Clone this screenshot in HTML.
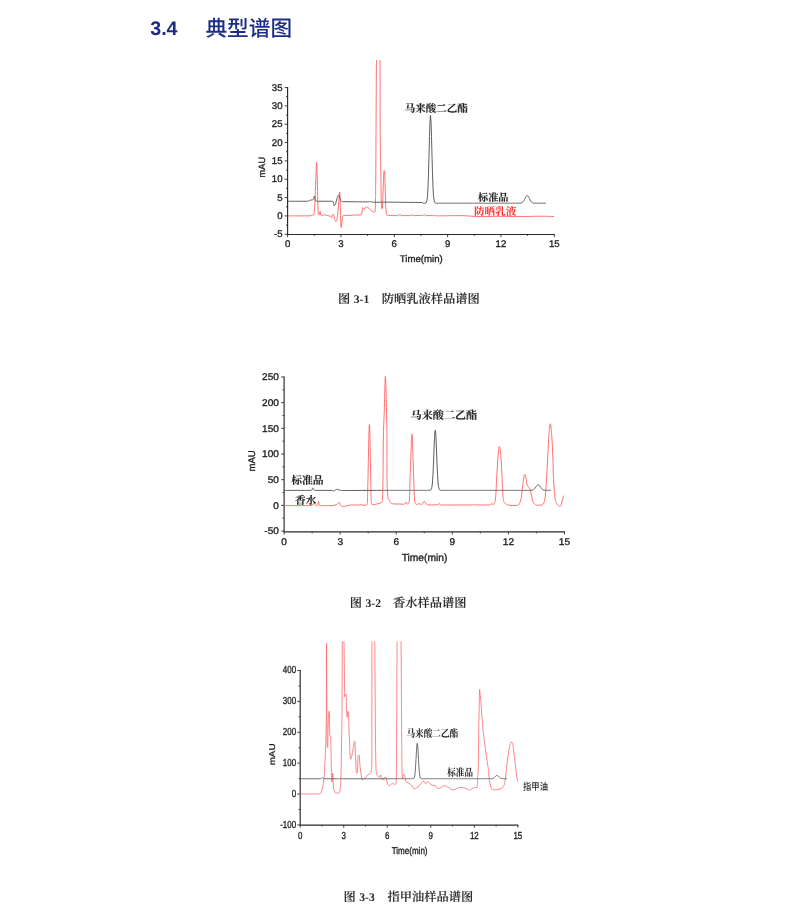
<!DOCTYPE html>
<html lang="zh-CN">
<head>
<meta charset="utf-8">
<title>3.4 典型谱图</title>
<style>
html,body{margin:0;padding:0;background:#fff;}
body{width:800px;height:918px;overflow:hidden;}
svg{display:block;}
</style>
</head>
<body>
<svg width="800" height="918" viewBox="0 0 800 918" text-rendering="geometricPrecision">
<rect width="800" height="918" fill="#fff"/>
<path d="M287.6 87.06 V234.54 H554.8" fill="none" stroke="#2a2a2a" stroke-width="1.15"/>
<path d="M287.6 234.24h-2.9M287.6 215.9h-2.9M287.6 197.56h-2.9M287.6 179.23h-2.9M287.6 160.9h-2.9M287.6 142.56h-2.9M287.6 124.23h-2.9M287.6 105.89h-2.9M287.6 87.56h-2.9M287.6 225.07h-1.6M287.6 206.73h-1.6M287.6 188.4h-1.6M287.6 170.06h-1.6M287.6 151.73h-1.6M287.6 133.39h-1.6M287.6 115.06h-1.6M287.6 96.72h-1.6M287.6 234.54v2.6M340.94 234.54v2.6M394.28 234.54v2.6M447.62 234.54v2.6M500.96 234.54v2.6M554.3 234.54v2.6M314.27 234.54v1.4M367.61 234.54v1.4M420.95 234.54v1.4M474.29 234.54v1.4M527.63 234.54v1.4" fill="none" stroke="#2a2a2a" stroke-width="0.9"/>
<g font-family="'Liberation Sans',Arial,sans-serif" font-size="9.7" fill="#1f1f1f" stroke="#1f1f1f" stroke-width="0.34">
<text transform="translate(282.5 237.31) scale(0.99 1)" text-anchor="end">-5</text>
<text transform="translate(282.5 218.97) scale(0.99 1)" text-anchor="end">0</text>
<text transform="translate(282.5 200.64) scale(0.99 1)" text-anchor="end">5</text>
<text transform="translate(282.5 182.3) scale(0.99 1)" text-anchor="end">10</text>
<text transform="translate(282.5 163.97) scale(0.99 1)" text-anchor="end">15</text>
<text transform="translate(282.5 145.63) scale(0.99 1)" text-anchor="end">20</text>
<text transform="translate(282.5 127.3) scale(0.99 1)" text-anchor="end">25</text>
<text transform="translate(282.5 108.96) scale(0.99 1)" text-anchor="end">30</text>
<text transform="translate(282.5 90.63) scale(0.99 1)" text-anchor="end">35</text>
<text transform="translate(287.6 246.8) scale(0.99 1)" text-anchor="middle">0</text>
<text transform="translate(340.94 246.8) scale(0.99 1)" text-anchor="middle">3</text>
<text transform="translate(394.28 246.8) scale(0.99 1)" text-anchor="middle">6</text>
<text transform="translate(447.62 246.8) scale(0.99 1)" text-anchor="middle">9</text>
<text transform="translate(500.96 246.8) scale(0.99 1)" text-anchor="middle">12</text>
<text transform="translate(554.3 246.8) scale(0.99 1)" text-anchor="middle">15</text>
</g>
<path d="M287.88 215.88 C292.3 215.88 305.2 215.88 310 215.88 C311.88 215.88 311.18 215 311.88 215 C312.57 215 312.93 215 313.5 215 C314.07 215 314.27 212.5 314.75 205 C315.23 197.5 315.5 186.05 315.88 177.5 C316.25 168.95 316.35 162.25 316.62 162.25 C316.9 162.25 316.95 167.2 317.25 177.5 C317.55 187.8 317.77 206.25 318.12 213.75 C318.48 215 318.57 215 319 215 C319.43 215 319.9 211.25 320.25 211.25 C320.6 211.25 320.3 214.18 320.75 215 C321.2 215.38 321.77 215.38 322.5 215.38 C323.23 215.38 323.38 214.75 324.38 214.75 C325.38 214.75 326.38 215.32 327.5 215.62 C328.62 215.93 329.2 215.82 330 216.25 C330.8 216.68 330.95 217.75 331.5 217.75 C332.05 217.75 332.3 214.38 332.75 214.38 C333.2 214.38 333.18 214.38 333.75 215 C334.32 216.43 335 221.5 335.62 221.5 C336.25 221.5 336.38 221.5 336.88 220 C337.38 217.7 337.55 215.62 338.12 210 C338.7 204.38 339.3 191.88 339.75 191.88 C340.2 191.88 340.12 202.88 340.38 210 C340.62 217.12 340.75 227.5 341 227.5 C341.25 227.5 341.32 227 341.62 225 C341.93 223 341.95 219.43 342.5 217.5 C343.05 215.57 342.88 215.38 344.38 215.38 C345.88 215.38 347.88 215.38 350 215.38 C352.12 215.38 353 215 355 215 C357 215 358.62 215 360 215 C361.38 215 361.32 214.62 361.88 213.12 C362.43 211.62 362.32 207.5 362.75 207.5 C363.18 207.5 363.3 209.38 364 209.38 C364.7 209.38 365.55 206.88 366.25 206.88 C366.95 206.88 366.5 206.88 367.5 207.25 C368.5 208 369.88 209.65 371.25 210.62 C372.62 211.6 373.6 212.12 374.38 212.12 C375.12 212.12 374.9 212.12 375.12 210.75 C375.35 208.32 375.38 205.9 375.5 200 C375.62 194.1 375.55 200 375.75 181.25 C375.95 153.25 376.35 60 376.5 60 M380 60 C380.05 60 380.07 116.5 380.25 140 C380.43 163.5 380.62 163.88 380.88 177.5 C381.12 191.12 381.23 201.88 381.5 208.12 C381.77 208.75 381.93 208.75 382.25 208.75 C382.57 208.75 382.77 197.62 383.12 190 C383.48 182.38 383.7 170.62 384 170.62 C384.3 170.62 384.3 170.62 384.62 171.25 C384.95 177.62 385.25 194 385.62 202.5 C386 211 386 211.18 386.5 213.75 C387 215.38 386.5 215 388.12 215.38 C390.32 215.62 395.12 215.62 397.5 215.62 C399.88 215.62 399.12 214.12 400 214.12 C400.88 214.12 400 215.62 401.88 215.62 C403.88 215.62 408 215.62 410 215.62 C411.88 215.62 411.12 214.75 411.88 214.75 C412.62 214.75 411.88 215.62 413.75 215.62 C415.88 215.62 420.38 215.57 422.5 215.38 C424.38 215.18 423.62 214.62 424.38 214.62 C425.12 214.62 424.38 215.62 426.25 215.62 C428.12 215.62 432 215.62 433.75 215.62 C435 215.62 434.25 215.25 435 215.25 C435.75 215.25 435 215.88 437.5 215.88 C442.5 215.88 451.5 215.62 460 215.62 C468.5 215.62 472 216.6 480 216.6 C488 216.6 492 216.3 500 216.3 C508 216.3 512 216.6 520 216.6 C528 216.6 533.2 216.2 540 216.2 C546.8 216.2 551.2 216.5 554 216.5" fill="none" stroke="#ff6868" stroke-width="0.95" stroke-linejoin="round" stroke-linecap="butt"/>
<path d="M287.88 201.25 C291.68 201.25 302.45 201.25 306.88 201.25 C310 201.25 308.75 200.62 310 200.25 C311.25 199.88 312.25 200.22 313.12 199.38 C314 198.53 314 196 314.38 196 C314.75 196 314.7 197.75 315 198.75 C315.3 199.75 315.38 200.5 315.88 201 C316.38 201.25 315.88 201.25 317.5 201.25 C320.82 201.25 329.2 201.25 332.5 201.25 C334 201.25 333.38 205.62 334 205.62 C334.62 205.62 335.05 205.12 335.62 203.75 C336.2 202.38 336.25 200.5 336.88 198.75 C337.5 197 338.12 195 338.75 195 C339.38 195 339.5 197.5 340 198.75 C340.5 200 340.25 200.68 341.25 201.25 C342.25 201.62 341.25 201.5 345 201.62 C350.25 201.75 362.5 201.88 367.5 201.88 C370 201.88 369 201.5 370 201.5 C371 201.5 370.5 201.97 372.5 202.12 C374.5 202.25 377.5 202.25 380 202.25 C382.5 202.25 380 202.12 385 202.12 C393.5 202.12 415 202.5 422.5 202.5 L423 203.2 L423.5 203.2 L424 203.2 L424.5 203.2 L425 203.18 L425.5 203.11 L426 202.86 L426.5 202.11 L427 200.15 L427.5 195.77 L428 187.39 L428.5 173.9 L429 155.84 L429.5 136.47 L430 121.22 L430.5 115.4 L431 121.22 L431.5 136.47 L432 155.84 L432.5 173.9 L433 187.39 L433.5 195.77 L434 200.15 L434.5 202.11 L435 202.86 L435.5 203.11 L436 203.18 L436.5 203.2 L437 203.2 L437.5 203.2 L438 203.2 L438.5 203.2 L439 203.2 L439.5 203.2 L440 203.2 L440.5 203.2 L441 203.2 L441.5 203.2 L442 203.2 L442.5 203.2 L443 203.2 L443.5 203.2 L444 203.2 L444.5 203.2 L445 203.2 L445.5 203.2 L446 203.2 L446.5 203.2 L447 203.2 L447.5 203.2 L448 203.2 L448.5 203.2 L449 203.2 L449.5 203.2 L450 203.2 L450.5 203.2 L451 203.2 L451.5 203.2 L452 203.2 L452.5 203.2 L453 203.2 L453.5 203.2 L454 203.2 L454.5 203.2 L455 203.2 L455.5 203.2 L456 203.2 L456.5 203.2 L457 203.2 L457.5 203.2 L458 203.2 L458.5 203.2 L459 203.2 L459.5 203.2 L460 203.2 L460.5 203.2 L461 203.2 L461.5 203.2 L462 203.2 L462.5 203.2 L463 203.2 L463.5 203.2 L464 203.2 L464.5 203.2 L465 203.2 L465.5 203.2 L466 203.2 L466.5 203.2 L467 203.2 L467.5 203.2 L468 203.2 L468.5 203.2 L469 203.2 L469.5 203.2 L470 203.2 L470.5 203.2 L471 203.2 L471.5 203.2 L472 203.2 L472.5 203.2 L473 203.2 L473.5 203.2 L474 203.2 L474.5 203.2 L475 203.2 L475.5 203.2 L476 203.2 L476.5 203.2 L477 203.2 L477.5 203.2 L478 203.2 L478.5 203.2 L479 203.2 L479.5 203.2 L480 203.2 L480.5 203.2 L481 203.2 L481.5 203.2 L482 203.2 L482.5 203.2 L483 203.2 L483.5 203.2 L484 203.2 L484.5 203.2 L485 203.2 L485.5 203.2 L486 203.2 L486.5 203.2 L487 203.2 L487.5 203.2 L488 203.2 L488.5 203.2 L489 203.2 L489.5 203.2 L490 203.2 L490.5 203.2 L491 203.2 L491.5 203.2 L492 203.2 L492.5 203.2 L493 203.2 L493.5 203.2 L494 203.2 L494.5 203.2 L495 203.2 L495.5 203.2 L496 203.2 L496.5 203.2 L497 203.2 L497.5 203.2 L498 203.2 L498.5 203.2 L499 203.2 L499.5 203.2 L500 203.2 L500.5 203.2 L501 203.2 L501.5 203.2 L502 203.2 L502.5 203.2 L503 203.2 L503.5 203.2 L504 203.2 L504.5 203.2 L505 203.2 L505.5 203.2 L506 203.2 L506.5 203.2 L507 203.2 L507.5 203.2 L508 203.2 L508.5 203.2 L509 203.2 L509.5 203.2 L510 203.2 L510.5 203.2 L511 203.2 L511.5 203.2 L512 203.2 L512.5 203.2 L513 203.2 L513.5 203.2 L514 203.2 L514.5 203.2 L515 203.2 L515.5 203.2 L516 203.2 L516.5 203.2 L517 203.2 L517.5 203.2 L518 203.2 L518.5 203.2 L519 203.19 L519.5 203.18 L520 203.16 L520.5 203.13 L521 203.05 L521.5 202.93 L522 202.73 L522.5 202.41 L523 201.96 L523.5 201.33 L524 200.53 L524.5 199.57 L525 198.53 L525.5 197.49 L526 196.56 L526.5 195.88 L527 195.53 L527.5 195.57 L528 195.99 L528.5 196.73 L529 197.69 L529.5 198.74 L530 199.77 L530.5 200.7 L531 201.47 L531.5 202.06 L532 202.49 L532.5 202.78 L533 202.96 L533.5 203.07 L534 203.14 L534.5 203.17 L535 203.19 L535.5 203.19 L536 203.2 L536.5 203.2 L537 203.2 L537.5 203.2 L538 203.2 L538.5 203.2 L539 203.2 L539.5 203.2 L540 203.2 L540.5 203.2 L541 203.2 L541.5 203.2 L542 203.2 L542.5 203.2 L543 203.2 L543.5 203.2 L544 203.2 L544.5 203.2 L545 203.2 L545.5 203.2 L546 203.2" fill="none" stroke="#555555" stroke-width="0.95" stroke-linejoin="round" stroke-linecap="butt"/>
<path d="M284.1 376.48 V531.9 H564.95" fill="none" stroke="#2a2a2a" stroke-width="1.15"/>
<path d="M284.1 531.02h-2.9M284.1 505.35h-2.9M284.1 479.68h-2.9M284.1 454h-2.9M284.1 428.33h-2.9M284.1 402.65h-2.9M284.1 376.98h-2.9M284.1 518.19h-1.6M284.1 492.51h-1.6M284.1 466.84h-1.6M284.1 441.16h-1.6M284.1 415.49h-1.6M284.1 389.81h-1.6M284.1 531.9v2.6M340.17 531.9v2.6M396.24 531.9v2.6M452.31 531.9v2.6M508.38 531.9v2.6M564.45 531.9v2.6M312.14 531.9v1.4M368.21 531.9v1.4M424.28 531.9v1.4M480.35 531.9v1.4M536.42 531.9v1.4" fill="none" stroke="#2a2a2a" stroke-width="0.9"/>
<g font-family="'Liberation Sans',Arial,sans-serif" font-size="9.7" fill="#1f1f1f" stroke="#1f1f1f" stroke-width="0.34">
<text transform="translate(278.9 534.25) scale(1.04 1)" text-anchor="end">-50</text>
<text transform="translate(278.9 508.57) scale(1.04 1)" text-anchor="end">0</text>
<text transform="translate(278.9 482.9) scale(1.04 1)" text-anchor="end">50</text>
<text transform="translate(278.9 457.22) scale(1.04 1)" text-anchor="end">100</text>
<text transform="translate(278.9 431.55) scale(1.04 1)" text-anchor="end">150</text>
<text transform="translate(278.9 405.87) scale(1.04 1)" text-anchor="end">200</text>
<text transform="translate(278.9 380.2) scale(1.04 1)" text-anchor="end">250</text>
<text transform="translate(284.1 545) scale(1.04 1)" text-anchor="middle">0</text>
<text transform="translate(340.17 545) scale(1.04 1)" text-anchor="middle">3</text>
<text transform="translate(396.24 545) scale(1.04 1)" text-anchor="middle">6</text>
<text transform="translate(452.31 545) scale(1.04 1)" text-anchor="middle">9</text>
<text transform="translate(508.38 545) scale(1.04 1)" text-anchor="middle">12</text>
<text transform="translate(564.45 545) scale(1.04 1)" text-anchor="middle">15</text>
</g>
<path d="M284.12 505.62 C289.55 505.62 305.45 505.62 311.25 505.62 C313.12 505.62 312.5 503.75 313.12 503.75 C313.75 503.75 313.88 503.75 314.38 504 C314.88 504.3 315.05 504.93 315.62 505.25 C316.2 505.57 316.77 505.62 317.25 505.62 C317.73 505.62 317.75 505.2 318 504.38 C318.25 503.55 318.3 501.5 318.5 501.5 C318.7 501.5 318.8 503.6 319 504.38 C319.2 505.15 319.05 505.12 319.5 505.38 C319.95 505.62 319.5 505.62 321.25 505.62 C323.35 505.62 327.25 505.62 330 505.62 C332.75 505.62 333.5 505.38 335 505 C336.5 504.62 336.62 504.3 337.5 503.75 C338.38 503.2 338.75 502.25 339.38 502.25 C340 502.25 340 504.15 340.62 505 C341.25 505.85 341.38 506.5 342.5 506.5 C343.62 506.5 344.5 506.18 346.25 505.88 C348 505.57 350.07 505.32 351.25 505 C352.12 504.68 351.8 504.25 352.12 504.25 C352.45 504.25 352.12 505 352.88 505 C354.45 505 358.2 505 360 505 C361.8 505 361.32 504.38 361.88 504.38 C362.43 504.38 361.88 505.25 362.75 505.25 C363.62 505.25 365.35 505.25 366.25 505.25 C367.15 505.25 367 504.18 367.25 503.12 C367.5 502.07 367.35 503.12 367.5 500 C367.65 494.88 367.62 492.62 368 477.5 C368.38 462.38 368.9 424.4 369.4 424.4 C369.9 424.4 370.2 451.88 370.5 465 C370.8 478.12 370.7 482.5 370.88 490 C371.05 497.5 371.05 499.55 371.38 502.5 C371.7 504.75 371.77 504.75 372.5 504.75 C373.23 504.75 373.5 504.7 375 504.38 C376.5 504.05 378.55 503.75 380 503.12 C381.45 502.5 381.65 503.12 382.25 501.25 C382.85 496.12 382.79 489.75 383 477.5 C383.21 465.25 383.04 453.5 383.3 440 C383.56 426.5 383.88 422.74 384.3 410 C384.72 397.26 384.96 376.3 385.4 376.3 C385.84 376.3 386.18 397.26 386.5 410 C386.82 422.74 386.9 426.5 387 440 C387 453.5 387 466.5 387 477.5 C387.15 488.5 387.27 490.38 387.75 495 C388.23 499.62 388.68 499 389.38 500.62 C390.07 502.25 390.12 502.45 391.25 503.12 C392.38 503.8 393.25 504 395 504 C396.75 504 398.25 504 400 504 C401.75 504 402.57 504.38 403.75 504.38 C404.93 504.38 405.25 502.25 405.88 502.25 C406.5 502.25 406.43 503.4 406.88 503.75 C407.32 504 407.62 504 408.12 504 C408.62 504 408.98 504 409.38 500 C409.77 494.7 409.84 485.5 410.12 477.5 C410.41 469.5 410.44 468.7 410.8 460 C411.16 451.3 411.44 434 411.9 434 C412.36 434 412.75 451.3 413.1 460 C413.45 468.7 413.32 469.5 413.62 477.5 C413.93 485.5 414.23 494.75 414.62 500 C415.02 503.75 415.05 502.88 415.62 503.75 C416.2 504.38 416.82 504.38 417.5 504.38 C418.18 504.38 418.38 503.38 419 503.38 C419.62 503.38 419.93 504.38 420.62 504.38 C421.32 504.38 421.75 504.38 422.5 503.75 C423.25 503.12 423.62 501.25 424.38 501.25 C425.12 501.25 425.12 503.25 426.25 504 C427.38 504.75 427.75 505 430 505 C432.25 505 435.62 504.93 437.5 504.62 C439.38 504.32 438.62 503.5 439.38 503.5 C440.12 503.5 439.38 505 441.25 505 C443.38 505 444.25 505 450 505 C455.75 505 465 505 470 505 C475 505 473.5 504.62 475 504.62 C476.5 504.62 475 505 477.5 505 C480.25 505 486 505 488.75 505 C491.25 505 490.38 503.75 491.25 503.75 C492.12 503.75 492.5 504.38 493.12 504.38 C493.75 504.38 493.88 504.38 494.38 503.12 C494.88 501.75 495.18 502.38 495.62 497.5 C496.07 492.62 496.23 485.65 496.62 478.75 C497.02 471.85 497.21 468.65 497.6 463 C498 457.35 498.24 453.8 498.6 450.5 C498.96 447.2 499.06 446.5 499.4 446.5 C499.74 446.5 499.92 447.2 500.3 450.5 C500.68 453.8 500.94 457.35 501.3 463 C501.67 468.65 501.81 472.35 502.12 478.75 C502.44 485.15 502.55 490.5 502.88 495 C503.2 499.5 503.32 499.62 503.75 501.25 C504.18 502.88 504.25 502.43 505 503.12 C505.75 503.82 506 504.25 507.5 504.75 C509 505.25 510.5 505.62 512.5 505.62 C514.5 505.62 516.12 505.62 517.5 505.25 C518.88 504.88 518.62 505.25 519.38 503.75 C520.12 502.2 520.5 501.75 521.25 497.5 C522 493.25 522.45 487.12 523.12 482.5 C523.8 477.88 524.08 474.38 524.62 474.38 C525.17 474.38 525.38 475.38 525.88 477.5 C526.38 479.62 526.55 483.12 527.12 485 C527.7 486.88 528.05 485.62 528.75 486.88 C529.45 488.12 529.88 488.62 530.62 491.25 C531.38 493.88 531.75 497.5 532.5 500 C533.25 502.5 533.38 502.7 534.38 503.75 C535.38 504.8 536.12 505.25 537.5 505.25 C538.88 505.25 540 505.25 541.25 505 C542.5 504.57 542.92 505 543.75 503.12 C544.58 501.12 544.83 499.88 545.38 495 C545.92 490.12 546.08 485.55 546.5 478.75 C546.92 471.95 547.08 468.75 547.5 461 C547.92 453.25 548.18 446.8 548.6 440 C549.02 433.2 549.26 430.25 549.6 427 C549.94 423.75 550.02 423.75 550.3 423.75 C550.58 423.75 550.66 423.75 551 427 C551.34 430.25 551.6 433.2 552 440 C552.4 446.8 552.7 453.25 553 461 C553.3 468.75 553.1 471.45 553.5 478.75 C553.9 486.05 554.33 492.5 555 497.5 C555.67 502.5 555.88 502 556.88 503.75 C557.88 505.5 559.12 506.25 560 506.25 C560.88 506.25 560.62 506.12 561.25 504.38 C561.88 502.62 562.5 499.25 563.12 497.5 C563.75 495.75 564.12 495.62 564.38 495.62" fill="none" stroke="#ff6868" stroke-width="0.95" stroke-linejoin="round" stroke-linecap="butt"/>
<path d="M284.12 490.38 C289.3 490.38 304.45 490.38 310 490.38 C311.88 490.38 311.32 490.25 311.88 489.75 C312.43 489.25 312.38 487.88 312.75 487.88 C313.12 487.88 313.18 489.25 313.75 489.75 C314.32 490.25 313.75 490.38 315.62 490.38 C319.12 490.38 327.62 490.38 331.25 490.38 C333.75 490.38 332.88 491 333.75 491 C334.62 491 334.88 490.07 335.62 489.75 C336.38 489.43 336.62 489.38 337.5 489.38 C338.38 489.38 339 490.02 340 490.25 C341 490.48 340 490.5 342.5 490.5 C350.5 490.5 372.5 490.38 380 490.38 L381 490.35 L381.5 490.35 L382 490.35 L382.5 490.35 L383 490.35 L383.5 490.35 L384 490.35 L384.5 490.35 L385 490.35 L385.5 490.35 L386 490.35 L386.5 490.35 L387 490.35 L387.5 490.35 L388 490.35 L388.5 490.35 L389 490.35 L389.5 490.35 L390 490.35 L390.5 490.35 L391 490.35 L391.5 490.35 L392 490.35 L392.5 490.35 L393 490.35 L393.5 490.35 L394 490.35 L394.5 490.35 L395 490.35 L395.5 490.35 L396 490.35 L396.5 490.35 L397 490.35 L397.5 490.35 L398 490.35 L398.5 490.35 L399 490.35 L399.5 490.35 L400 490.35 L400.5 490.35 L401 490.35 L401.5 490.35 L402 490.35 L402.5 490.35 L403 490.35 L403.5 490.35 L404 490.35 L404.5 490.35 L405 490.35 L405.5 490.35 L406 490.35 L406.5 490.35 L407 490.35 L407.5 490.35 L408 490.35 L408.5 490.35 L409 490.35 L409.5 490.35 L410 490.35 L410.5 490.35 L411 490.35 L411.5 490.35 L412 490.35 L412.5 490.35 L413 490.35 L413.5 490.35 L414 490.35 L414.5 490.35 L415 490.35 L415.5 490.35 L416 490.35 L416.5 490.35 L417 490.35 L417.5 490.35 L418 490.35 L418.5 490.35 L419 490.35 L419.5 490.35 L420 490.35 L420.5 490.35 L421 490.35 L421.5 490.35 L422 490.35 L422.5 490.35 L423 490.35 L423.5 490.35 L424 490.35 L424.5 490.35 L425 490.35 L425.5 490.35 L426 490.35 L426.5 490.35 L427 490.35 L427.5 490.35 L428 490.35 L428.5 490.35 L429 490.35 L429.5 490.34 L430 490.31 L430.5 490.19 L431 489.82 L431.5 488.83 L432 486.54 L432.5 481.98 L433 474.22 L433.5 463.07 L434 449.91 L434.5 437.77 L435 430.39 L435.5 430.39 L436 437.77 L436.5 449.91 L437 463.07 L437.5 474.22 L438 481.98 L438.5 486.54 L439 488.83 L439.5 489.82 L440 490.19 L440.5 490.31 L441 490.34 L441.5 490.35 L442 490.35 L442.5 490.35 L443 490.35 L443.5 490.35 L444 490.35 L444.5 490.35 L445 490.35 L445.5 490.35 L446 490.35 L446.5 490.35 L447 490.35 L447.5 490.35 L448 490.35 L448.5 490.35 L449 490.35 L449.5 490.35 L450 490.35 L450.5 490.35 L451 490.35 L451.5 490.35 L452 490.35 L452.5 490.35 L453 490.35 L453.5 490.35 L454 490.35 L454.5 490.35 L455 490.35 L455.5 490.35 L456 490.35 L456.5 490.35 L457 490.35 L457.5 490.35 L458 490.35 L458.5 490.35 L459 490.35 L459.5 490.35 L460 490.35 L460.5 490.35 L461 490.35 L461.5 490.35 L462 490.35 L462.5 490.35 L463 490.35 L463.5 490.35 L464 490.35 L464.5 490.35 L465 490.35 L465.5 490.35 L466 490.35 L466.5 490.35 L467 490.35 L467.5 490.35 L468 490.35 L468.5 490.35 L469 490.35 L469.5 490.35 L470 490.35 L470.5 490.35 L471 490.35 L471.5 490.35 L472 490.35 L472.5 490.35 L473 490.35 L473.5 490.35 L474 490.35 L474.5 490.35 L475 490.35 L475.5 490.35 L476 490.35 L476.5 490.35 L477 490.35 L477.5 490.35 L478 490.35 L478.5 490.35 L479 490.35 L479.5 490.35 L480 490.35 L480.5 490.35 L481 490.35 L481.5 490.35 L482 490.35 L482.5 490.35 L483 490.35 L483.5 490.35 L484 490.35 L484.5 490.35 L485 490.35 L485.5 490.35 L486 490.35 L486.5 490.35 L487 490.35 L487.5 490.35 L488 490.35 L488.5 490.35 L489 490.35 L489.5 490.35 L490 490.35 L490.5 490.35 L491 490.35 L491.5 490.35 L492 490.35 L492.5 490.35 L493 490.35 L493.5 490.35 L494 490.35 L494.5 490.35 L495 490.35 L495.5 490.35 L496 490.35 L496.5 490.35 L497 490.35 L497.5 490.35 L498 490.35 L498.5 490.35 L499 490.35 L499.5 490.35 L500 490.35 L500.5 490.35 L501 490.35 L501.5 490.35 L502 490.35 L502.5 490.35 L503 490.35 L503.5 490.35 L504 490.35 L504.5 490.35 L505 490.35 L505.5 490.35 L506 490.35 L506.5 490.35 L507 490.35 L507.5 490.35 L508 490.35 L508.5 490.35 L509 490.35 L509.5 490.35 L510 490.35 L510.5 490.35 L511 490.35 L511.5 490.35 L512 490.35 L512.5 490.35 L513 490.35 L513.5 490.35 L514 490.35 L514.5 490.35 L515 490.35 L515.5 490.35 L516 490.35 L516.5 490.35 L517 490.35 L517.5 490.35 L518 490.35 L518.5 490.35 L519 490.35 L519.5 490.35 L520 490.35 L520.5 490.35 L521 490.35 L521.5 490.35 L522 490.35 L522.5 490.35 L523 490.35 L523.5 490.35 L524 490.35 L524.5 490.35 L525 490.35 L525.5 490.35 L526 490.35 L526.5 490.35 L527 490.35 L527.5 490.35 L528 490.35 L528.5 490.35 L529 490.35 L529.5 490.34 L530 490.34 L530.5 490.33 L531 490.3 L531.5 490.26 L532 490.19 L532.5 490.06 L533 489.88 L533.5 489.6 L534 489.22 L534.5 488.72 L535 488.11 L535.5 487.42 L536 486.69 L536.5 485.99 L537 485.4 L537.5 484.99 L538 484.81 L538.5 484.88 L539 485.21 L539.5 485.74 L540 486.4 L540.5 487.13 L541 487.84 L541.5 488.49 L542 489.03 L542.5 489.46 L543 489.78 L543.5 490 L544 490.14 L544.5 490.23 L545 490.29 L545.5 490.32 L546 490.33 L546.5 490.34 L547 490.35 L547.5 490.35 L548 490.35 L548.5 490.35 L549 490.35 L549.5 490.35 L550 490.35 L550.5 490.35 L551 490.35" fill="none" stroke="#555555" stroke-width="0.95" stroke-linejoin="round" stroke-linecap="butt"/>
<path d="M300.2 669.98 V825.1 H518.35" fill="none" stroke="#2a2a2a" stroke-width="1.15"/>
<path d="M300.2 824.88h-2.9M300.2 794h-2.9M300.2 763.12h-2.9M300.2 732.24h-2.9M300.2 701.36h-2.9M300.2 670.48h-2.9M300.2 809.44h-1.6M300.2 778.56h-1.6M300.2 747.68h-1.6M300.2 716.8h-1.6M300.2 685.92h-1.6M300.2 825.1v2.6M343.73 825.1v2.6M387.26 825.1v2.6M430.79 825.1v2.6M474.32 825.1v2.6M517.85 825.1v2.6M321.96 825.1v1.4M365.5 825.1v1.4M409.02 825.1v1.4M452.55 825.1v1.4M496.08 825.1v1.4" fill="none" stroke="#2a2a2a" stroke-width="0.9"/>
<g font-family="'Liberation Sans',Arial,sans-serif" font-size="10.2" fill="#1f1f1f" stroke="#1f1f1f" stroke-width="0.34">
<text transform="translate(296.1 827.88) scale(0.78 1)" text-anchor="end">-100</text>
<text transform="translate(296.1 797) scale(0.78 1)" text-anchor="end">0</text>
<text transform="translate(296.1 766.12) scale(0.78 1)" text-anchor="end">100</text>
<text transform="translate(296.1 735.24) scale(0.78 1)" text-anchor="end">200</text>
<text transform="translate(296.1 704.36) scale(0.78 1)" text-anchor="end">300</text>
<text transform="translate(296.1 673.48) scale(0.78 1)" text-anchor="end">400</text>
<text transform="translate(300.2 839) scale(0.78 1)" text-anchor="middle">0</text>
<text transform="translate(343.73 839) scale(0.78 1)" text-anchor="middle">3</text>
<text transform="translate(387.26 839) scale(0.78 1)" text-anchor="middle">6</text>
<text transform="translate(430.79 839) scale(0.78 1)" text-anchor="middle">9</text>
<text transform="translate(474.32 839) scale(0.78 1)" text-anchor="middle">12</text>
<text transform="translate(517.85 839) scale(0.78 1)" text-anchor="middle">15</text>
</g>
<path d="M300.25 794 C303.2 794 311.93 794 315 794 C315.62 794 315.25 793.38 315.62 793.38 C316 793.38 316 794 316.88 794 C317.75 794 319 794 320 793.75 C321 792.95 321.12 792.75 321.88 790 C322.62 787.25 323.12 785.5 323.75 780 C324.38 774.5 324.57 771 325 762.5 C325.43 754 325.6 747.5 325.88 737.5 C326.15 727.5 326.25 731.34 326.38 712.5 C326.5 693.66 326.4 643.3 326.5 643.3 C326.6 643.3 326.73 691.91 326.88 712.5 C327.02 733.09 327.07 739.25 327.25 746.25 C327.43 747.5 327.57 747.5 327.75 747.5 C327.93 747.5 327.88 732.25 328.12 725 C328.38 717.75 328.73 711.25 329 711.25 C329.27 711.25 329.35 711.25 329.5 711.25 C329.65 711.25 329.52 730 329.75 735 C329.98 736.25 330.32 735 330.62 736.25 C330.93 741.75 331.05 753.38 331.25 762.5 C331.45 771.62 331.43 781.88 331.62 781.88 C331.82 781.88 332.05 781.75 332.25 780 C332.45 778.25 332.48 773.12 332.62 773.12 C332.77 773.12 332.85 773.12 333 775 C333.15 777.62 333.1 783 333.38 786.25 C333.65 789.5 333.8 789.88 334.38 791.25 C334.95 792.62 335.5 793.12 336.25 793.12 C337 793.12 337.38 793.12 338.12 793.12 C338.88 793.12 339.43 793.12 340 790 C340.57 786.38 340.68 785.5 341 775 C341.32 764.5 341.43 750 341.62 737.5 C341.82 725 341.87 731.74 342 712.5 C342.13 693.26 342.24 641.3 342.3 641.3 M343.9 641.3 C344.04 641.3 344.54 681.46 344.6 692.6 C344.6 697 344.2 697 344.2 697 C344.46 697 345.42 694 345.9 694 C346.38 694 346.33 705.3 346.6 710 C346.87 714.7 347 717.5 347.25 717.5 C347.5 717.5 347.62 711.25 347.88 711.25 C348.12 711.25 348.2 711.25 348.5 712.5 C348.8 717.75 348.95 728.12 349.38 737.5 C349.8 746.88 350 759.38 350.62 759.38 C351.25 759.38 351.7 756.12 352.5 752.5 C353.3 748.88 354.07 741.25 354.62 741.25 C355.18 741.25 354.88 743.62 355.25 750 C355.62 756.38 356.1 773.12 356.5 773.12 C356.9 773.12 356.93 773.12 357.25 772.5 C357.57 769 357.75 759.12 358.12 755.62 C358.5 755 358.75 755 359.12 755 C359.5 755 359.57 762.25 360 766.25 C360.43 770.25 360.75 772.25 361.25 775 C361.75 777.75 361.88 780 362.5 780 C363.12 780 363.32 779.75 364.38 778.75 C365.43 777.75 366.38 776.5 367.75 775 C369.12 773.5 370.43 775 371.25 771.25 C371.88 766.25 371.75 771.25 371.88 750 C371.9 724.01 371.89 641.3 371.9 641.3 M374.7 641.3 C374.88 641.3 375.26 723.51 375.62 750 C375.99 773.75 376.12 768.62 376.5 773.75 C376.88 775.62 376.93 774.88 377.5 775.62 C378.07 776.38 378.75 777.5 379.38 777.5 C380 777.5 380.2 775 380.62 775 C381.05 775 381 777.12 381.5 778.12 C382 779.12 382.43 780 383.12 780 C383.82 780 384.38 776.88 385 776.88 C385.62 776.88 385.75 777.38 386.25 778.75 C386.75 780.12 386.88 782.38 387.5 783.75 C388.12 785.12 388.75 785.62 389.38 785.62 C390 785.62 390 785.25 390.62 784.75 C391.25 784.25 391.75 783.12 392.5 783.12 C393.25 783.12 393.68 784.38 394.38 784.38 C395.07 784.38 395.57 784.38 396 783.75 C396.43 778.38 396.28 783.75 396.5 757.5 C396.72 729.01 396.98 641.3 397.1 641.3 M401 641.3 C401.18 641.3 401.57 730.01 401.88 757.5 C402.18 778.75 402.12 778.75 402.5 778.75 C402.88 778.75 403.25 774.38 403.75 774.38 C404.25 774.38 404.62 774.88 405 776.25 C405.38 777.62 405 779.88 405.62 781.25 C406.38 782.62 407.62 782.38 408.75 783.12 C409.88 783.88 410.12 783.88 411.25 785 C412.38 786.12 413.25 788.75 414.38 788.75 C415.5 788.75 415.88 788.12 416.88 787.5 C417.88 786.88 418.38 786.62 419.38 785.62 C420.38 784.62 421 783.42 421.88 782.5 C422.75 781.58 423 781 423.75 781 C424.5 781 424.82 783.75 425.62 783.75 C426.43 783.75 426.88 781.5 427.75 781.5 C428.62 781.5 429.05 783 430 783.75 C430.95 784.5 431.5 784.88 432.5 785.25 C433.5 785.62 433.88 785.25 435 785.62 C436.12 786.27 436.88 788.5 438.12 788.5 C439.38 788.5 440.12 788.08 441.25 787.5 C442.38 786.92 442.75 785.62 443.75 785.62 C444.75 785.62 445.12 785.75 446.25 786.25 C447.38 786.75 448 787.38 449.38 788.12 C450.75 788.88 451.5 790 453.12 790 C454.75 790 455.88 788.62 457.5 788.12 C459.12 787.62 459.5 787.5 461.25 787.5 C463 787.5 464.5 787.95 466.25 788.5 C468 789.05 468.88 790.25 470 790.25 C471.12 790.25 471 789.3 471.88 788.75 C472.75 788.2 473.38 787.5 474.38 787.5 C475.38 787.5 476.23 787.75 476.88 787.75 C477.52 787.75 477.35 781.55 477.62 777.5 C477.9 773.45 478.02 777 478.25 767.5 C478.48 758 478.55 742.5 478.75 730 C478.95 717.5 479.07 713.12 479.25 705 C479.43 696.88 479.48 689.38 479.62 689.38 C479.77 689.38 479.8 690.62 480 692.5 C480.2 694.38 480 692.5 480.62 698.75 C481.25 706.25 482 718.75 483.12 730 C484.25 741.25 485.12 746.62 486.25 755 C487.38 763.38 488.25 767.88 488.75 771.88 C488.75 775 488.75 772.12 488.75 775 C489.12 777.88 489.75 783.3 490.62 786.25 C491.5 789.2 492 789.75 493.12 789.75 C494.25 789.75 494.88 789.75 496.25 789.75 C497.62 789.75 498.62 789.33 500 788.75 C501.38 788.17 502.12 788.38 503.12 786.88 C504.12 785.38 504.25 785.62 505 781.25 C505.75 776.88 506 771.75 506.88 765 C507.75 758.25 508.62 751.88 509.38 747.5 C510.12 743.12 510.2 744.25 510.62 743.12 C511.05 742 511.15 741.88 511.5 741.88 C511.85 741.88 512.05 742.25 512.38 743.12 C512.7 744 512.6 743.12 513.12 746.25 C513.65 749.88 514.25 755 515 761.25 C515.75 767.5 516.25 773.38 516.88 777.5 C517.5 781.62 517.88 781.88 518.12 781.88" fill="none" stroke="#ff6868" stroke-width="0.82" stroke-linejoin="round" stroke-linecap="butt"/>
<path d="M300.25 778.75 C304.2 778.75 315.75 778.75 320 778.75 C321.5 778.75 321 778.62 321.5 778.38 C322 778.12 322.1 777.5 322.5 777.5 C322.9 777.5 322.88 778.25 323.5 778.5 C324.12 778.75 323.5 778.75 325.62 778.75 C328.43 778.75 334.75 778.75 337.5 778.75 C339.38 778.75 338.62 779.12 339.38 779.12 C340.12 779.12 340.5 778.25 341.25 778.25 C342 778.25 341.25 778.75 343.12 778.75 C352.88 778.75 380.62 778.75 390 778.75 L391 778.7 L391.5 778.7 L392 778.7 L392.5 778.7 L393 778.7 L393.5 778.7 L394 778.7 L394.5 778.7 L395 778.7 L395.5 778.7 L396 778.7 L396.5 778.7 L397 778.7 L397.5 778.7 L398 778.7 L398.5 778.7 L399 778.7 L399.5 778.7 L400 778.7 L400.5 778.7 L401 778.7 L401.5 778.7 L402 778.7 L402.5 778.7 L403 778.7 L403.5 778.7 L404 778.7 L404.5 778.7 L405 778.7 L405.5 778.7 L406 778.7 L406.5 778.7 L407 778.7 L407.5 778.7 L408 778.7 L408.5 778.7 L409 778.7 L409.5 778.7 L410 778.7 L410.5 778.7 L411 778.7 L411.5 778.7 L412 778.7 L412.5 778.7 L413 778.67 L413.5 778.57 L414 778.16 L414.5 776.93 L415 773.9 L415.5 768.05 L416 759.33 L416.5 749.85 L417 743.49 L417.5 743.49 L418 749.85 L418.5 759.33 L419 768.05 L419.5 773.9 L420 776.93 L420.5 778.16 L421 778.57 L421.5 778.67 L422 778.7 L422.5 778.7 L423 778.7 L423.5 778.7 L424 778.7 L424.5 778.7 L425 778.7 L425.5 778.7 L426 778.7 L426.5 778.7 L427 778.7 L427.5 778.7 L428 778.7 L428.5 778.7 L429 778.7 L429.5 778.7 L430 778.7 L430.5 778.7 L431 778.7 L431.5 778.7 L432 778.7 L432.5 778.7 L433 778.7 L433.5 778.7 L434 778.7 L434.5 778.7 L435 778.7 L435.5 778.7 L436 778.7 L436.5 778.7 L437 778.7 L437.5 778.7 L438 778.7 L438.5 778.7 L439 778.7 L439.5 778.7 L440 778.7 L440.5 778.7 L441 778.7 L441.5 778.7 L442 778.7 L442.5 778.7 L443 778.7 L443.5 778.7 L444 778.7 L444.5 778.7 L445 778.7 L445.5 778.7 L446 778.7 L446.5 778.7 L447 778.7 L447.5 778.7 L448 778.7 L448.5 778.7 L449 778.7 L449.5 778.7 L450 778.7 L450.5 778.7 L451 778.7 L451.5 778.7 L452 778.7 L452.5 778.7 L453 778.7 L453.5 778.7 L454 778.7 L454.5 778.7 L455 778.7 L455.5 778.7 L456 778.7 L456.5 778.7 L457 778.7 L457.5 778.7 L458 778.7 L458.5 778.7 L459 778.7 L459.5 778.7 L460 778.7 L460.5 778.7 L461 778.7 L461.5 778.7 L462 778.7 L462.5 778.7 L463 778.7 L463.5 778.7 L464 778.7 L464.5 778.7 L465 778.7 L465.5 778.7 L466 778.7 L466.5 778.7 L467 778.7 L467.5 778.7 L468 778.7 L468.5 778.7 L469 778.7 L469.5 778.7 L470 778.7 L470.5 778.7 L471 778.7 L471.5 778.7 L472 778.7 L472.5 778.7 L473 778.7 L473.5 778.7 L474 778.7 L474.5 778.7 L475 778.7 L475.5 778.7 L476 778.7 L476.5 778.7 L477 778.7 L477.5 778.7 L478 778.7 L478.5 778.7 L479 778.7 L479.5 778.7 L480 778.7 L480.5 778.7 L481 778.7 L481.5 778.7 L482 778.7 L482.5 778.7 L483 778.7 L483.5 778.7 L484 778.7 L484.5 778.7 L485 778.7 L485.5 778.7 L486 778.7 L486.5 778.7 L487 778.7 L487.5 778.7 L488 778.7 L488.5 778.7 L489 778.7 L489.5 778.7 L490 778.7 L490.5 778.7 L491 778.69 L491.5 778.67 L492 778.64 L492.5 778.57 L493 778.45 L493.5 778.25 L494 777.95 L494.5 777.54 L495 777.03 L495.5 776.48 L496 775.96 L496.5 775.58 L497 775.41 L497.5 775.48 L498 775.79 L498.5 776.26 L499 776.81 L499.5 777.34 L500 777.8 L500.5 778.15 L501 778.38 L501.5 778.53 L502 778.62 L502.5 778.66 L503 778.68 L503.5 778.69 L504 778.7 L504.5 778.7 L505 778.7 L505.5 778.7 L506 778.7 L506.5 778.7 L507 778.7" fill="none" stroke="#606060" stroke-width="0.9" stroke-linejoin="round" stroke-linecap="butt"/>
<text x="150.2" y="35.4" font-family="'Liberation Sans','Noto Sans CJK SC',sans-serif" font-size="19.7" fill="#1a2b80" text-anchor="start" font-weight="bold">3.4</text>
<text x="205.4" y="36.2" font-family="'Liberation Sans','Noto Sans CJK SC',sans-serif" font-size="21.7" fill="#1a2e86" text-anchor="start" font-weight="500">典型谱图</text>
<text transform="translate(264.7 167.2) scale(1 1) rotate(-90)" font-family="'Liberation Sans','Noto Sans CJK SC',sans-serif" font-size="9.2" fill="#1f1f1f" text-anchor="middle" font-weight="normal" stroke="#1f1f1f" stroke-width="0.34">mAU</text>
<text x="421.3" y="262" font-family="'Liberation Sans','Noto Sans CJK SC',sans-serif" font-size="9.65" fill="#1f1f1f" text-anchor="middle" font-weight="normal" stroke="#1f1f1f" stroke-width="0.34">Time(min)</text>
<text transform="translate(255.3 460.9) scale(1 1) rotate(-90)" font-family="'Liberation Sans','Noto Sans CJK SC',sans-serif" font-size="9.6" fill="#1f1f1f" text-anchor="middle" font-weight="normal" stroke="#1f1f1f" stroke-width="0.34">mAU</text>
<text x="424.5" y="561.4" font-family="'Liberation Sans','Noto Sans CJK SC',sans-serif" font-size="10.25" fill="#1f1f1f" text-anchor="middle" font-weight="normal" stroke="#1f1f1f" stroke-width="0.34">Time(min)</text>
<text transform="translate(275.3 754.4) scale(0.84 1) rotate(-90)" font-family="'Liberation Sans','Noto Sans CJK SC',sans-serif" font-size="9.9" fill="#1f1f1f" text-anchor="middle" font-weight="normal" stroke="#1f1f1f" stroke-width="0.34">mAU</text>
<text transform="translate(409.6 854.3) scale(0.82 1)" font-family="'Liberation Sans','Noto Sans CJK SC',sans-serif" font-size="9.8" fill="#1f1f1f" text-anchor="middle" font-weight="normal" stroke="#1f1f1f" stroke-width="0.34">Time(min)</text>
<text x="404.7" y="111.6" font-family="'Liberation Serif','Noto Serif CJK SC',serif" font-size="10.5" fill="#222" text-anchor="start" font-weight="700" stroke="#222" stroke-width="0.1">马来酸二乙酯</text>
<text x="478" y="201.4" font-family="'Liberation Serif','Noto Serif CJK SC',serif" font-size="10.2" fill="#222" text-anchor="start" font-weight="700" stroke="#222" stroke-width="0.1">标准品</text>
<text x="474" y="214.6" font-family="'Liberation Serif','Noto Serif CJK SC',serif" font-size="10.6" fill="#ff2a2a" text-anchor="start" font-weight="bold">防晒乳液</text>
<text x="410.6" y="419" font-family="'Liberation Serif','Noto Serif CJK SC',serif" font-size="11.1" fill="#222" text-anchor="start" font-weight="700" stroke="#222" stroke-width="0.1">马来酸二乙酯</text>
<text x="291.2" y="484.2" font-family="'Liberation Serif','Noto Serif CJK SC',serif" font-size="10.8" fill="#222" text-anchor="start" font-weight="700" stroke="#222" stroke-width="0.1">标准品</text>
<text x="295" y="503.8" font-family="'Liberation Serif','Noto Serif CJK SC',serif" font-size="10.7" fill="#222" text-anchor="start" font-weight="700" stroke="#222" stroke-width="0.1">香水</text>
<text transform="translate(406.5 736.8) scale(0.83 1)" font-family="'Liberation Serif','Noto Serif CJK SC',serif" font-size="10.4" fill="#222" text-anchor="start" font-weight="700">马来酸二乙酯</text>
<text transform="translate(447.3 775.6) scale(0.84 1)" font-family="'Liberation Serif','Noto Serif CJK SC',serif" font-size="10.2" fill="#222" text-anchor="start" font-weight="700">标准品</text>
<text transform="translate(523 789.8) scale(0.85 1)" font-family="'Liberation Sans','Noto Sans CJK SC',sans-serif" font-size="9.8" fill="#2a2a2a" text-anchor="start" font-weight="500">指甲油</text>
<text y="303.2" font-family="'Liberation Serif','Noto Serif CJK SC',serif" font-size="12.25" fill="#2a2a2a" font-weight="600" stroke="#2a2a2a" stroke-width="0.12"><tspan x="337.9">图</tspan><tspan x="353.7" font-weight="bold" font-size="11.7" stroke="none">3-1</tspan><tspan x="381.8">防晒乳液样品谱图</tspan></text>
<text y="607.4" font-family="'Liberation Serif','Noto Serif CJK SC',serif" font-size="12.25" fill="#2a2a2a" font-weight="600" stroke="#2a2a2a" stroke-width="0.12"><tspan x="349.7">图</tspan><tspan x="365.5" font-weight="bold" font-size="11.7" stroke="none">3-2</tspan><tspan x="393">香水样品谱图</tspan></text>
<text y="900.8" font-family="'Liberation Serif','Noto Serif CJK SC',serif" font-size="12.25" fill="#2a2a2a" font-weight="600" stroke="#2a2a2a" stroke-width="0.12"><tspan x="343.4">图</tspan><tspan x="359.2" font-weight="bold" font-size="11.7" stroke="none">3-3</tspan><tspan x="387.5">指甲油样品谱图</tspan></text>
</svg>
</body>
</html>
